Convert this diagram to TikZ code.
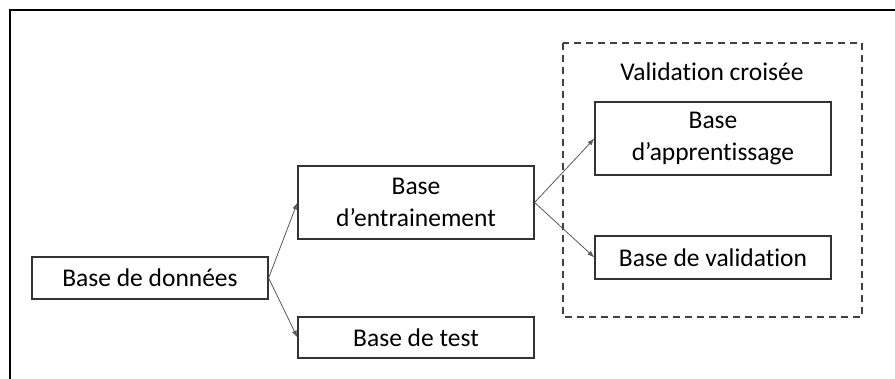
\documentclass[tikz,border=0pt]{standalone}
\usepackage{fontspec}
\setmainfont{Carlito}[Ligatures=NoCommon]
\usetikzlibrary{arrows.meta}
\begin{document}
\begin{tikzpicture}[x=1pt,y=-1pt,
    boite/.style={rectangle,draw=black!80,line width=1.2pt,minimum width=236pt,inner sep=0pt,align=center,font=\fontsize{25.5}{32}\selectfont},
    fleche/.style={draw=black!65,line width=0.8pt,-{Latex[length=7pt,width=5pt]}}]
  \useasboundingbox (0,0) rectangle (895,379);
  % cadre
  \draw[line width=2pt] (10,379) -- (10,10) -- (895,10);
  % zone de validation croisee
  \draw[dashed,draw=black!75,line width=1.2pt,dash pattern=on 7pt off 5pt] (563,43) rectangle (862,317);
  \node[font=\fontsize{25.5}{32}\selectfont] (titre) at (712,72) {Validation croisée};
  \node[boite,minimum height=42pt] (donnees) at (150,278) {Base de données};
  \node[boite,minimum height=73pt] (entrainement) at (416,202.5) {Base\\d’entrainement};
  \node[boite,minimum height=41pt] (test) at (416,337.5) {Base de test};
  \node[boite,minimum height=73pt] (apprentissage) at (713,138.5) {Base\\d’apprentissage};
  \node[boite,minimum height=43pt] (validation) at (713,257.5) {Base de validation};
  \draw[fleche] (donnees.east) -- (entrainement.west);
  \draw[fleche] (donnees.east) -- (test.west);
  \draw[fleche] (entrainement.east) -- (apprentissage.west);
  \draw[fleche] (entrainement.east) -- (validation.west);
\end{tikzpicture}
\end{document}
